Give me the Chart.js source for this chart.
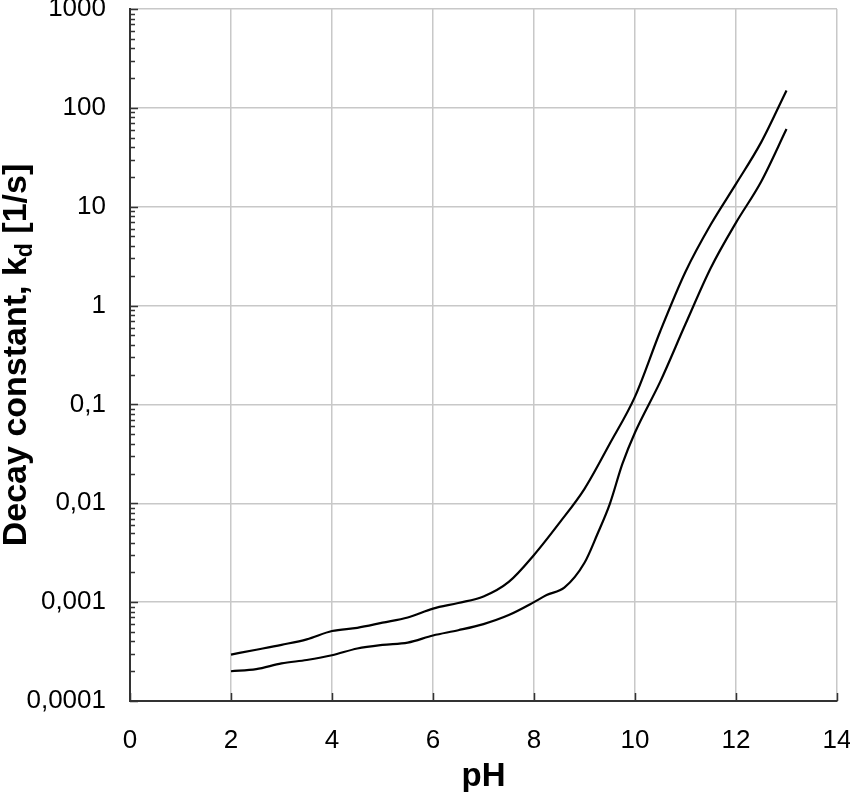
<!DOCTYPE html>
<html>
<head>
<meta charset="utf-8">
<script src="https://cdn.jsdelivr.net/npm/chart.js@4/dist/chart.umd.min.js"></script>
<style>
  html, body { margin: 0; padding: 0; background: #fff; }
  #wrap { width: 850px; height: 792px; position: relative; }
</style>
</head>
<body>
<div id="wrap"><canvas id="decayChart"></canvas></div>
<script>
// values
const phUpper = [2, 2.5, 3, 3.5, 4, 4.5, 5, 5.5, 6, 6.5, 7, 7.5, 8, 8.5, 9, 9.5, 10, 10.5, 11, 11.5, 12, 12.5, 13];
const kdUpper = [0.000295, 0.00033, 0.00037, 0.00042, 0.00051, 0.00055, 0.00062, 0.0007, 0.00086, 0.00098, 0.00114, 0.0016, 0.003, 0.0063, 0.014, 0.04, 0.12, 0.55, 2.2, 6.6, 17, 45, 150];

const phLower = [2, 2.5, 3, 3.5, 4, 4.5, 5, 5.5, 6, 6.5, 7, 7.5, 8, 8.25, 8.6, 9, 9.25, 9.5, 9.75, 10, 10.5, 11, 11.5, 12, 12.5, 13];
const kdLower = [0.0002, 0.00021, 0.00024, 0.00026, 0.00029, 0.00034, 0.00037, 0.00039, 0.00046, 0.00052, 0.0006, 0.00074, 0.001, 0.00118, 0.0014, 0.0025, 0.0048, 0.0098, 0.025, 0.052, 0.17, 0.65, 2.4, 6.9, 18, 61];

const yTicks = [0.0001, 0.001, 0.01, 0.1, 1, 10, 100, 1000];
const xTicks = [0, 2, 4, 6, 8, 10, 12, 14];

const FONT = "'Liberation Sans', Arial, sans-serif";

function toPoints(xs, ys) {
    return xs.map((x, i) => ({ x: x, y: ys[i] }));
}

// inward tick marks and the two axis titles
const axisDecor = {
    id: 'axisDecor',
    afterDraw(chart) {
        const ctx = chart.ctx;
        const area = chart.chartArea;
        const ys = chart.scales.y;
        const xs = chart.scales.x;
        ctx.save();
        ctx.strokeStyle = '#333';
        ctx.lineWidth = 1.5;
        ctx.beginPath();
        for (let e = -4; e <= 3; e++) {
            for (let m = 1; m <= 9; m++) {
                const v = m * Math.pow(10, e);
                if (v > 1000 * 1.0001) break;
                const py = Math.round(ys.getPixelForValue(v)) + 0.5;
                const len = m === 1 ? 8 : 5;
                ctx.moveTo(area.left, py);
                ctx.lineTo(area.left + len, py);
            }
        }
        xTicks.forEach(t => {
            const px = Math.round(xs.getPixelForValue(t)) + 0.5;
            ctx.moveTo(px, area.bottom);
            ctx.lineTo(px, area.bottom - 8);
        });
        ctx.stroke();

        ctx.fillStyle = '#000';
        // x title
        ctx.font = 'bold 33px ' + FONT;
        ctx.textAlign = 'center';
        ctx.textBaseline = 'alphabetic';
        ctx.fillText('pH', (area.left + area.right) / 2, 786);

        // y title with subscript d
        const big = 'bold 34px ' + FONT;
        const small = 'bold 23px ' + FONT;
        const p1 = 'Decay constant, k', p2 = 'd', p3 = ' [1/s]';
        ctx.font = big;
        const w1 = ctx.measureText(p1).width;
        const w3 = ctx.measureText(p3).width;
        ctx.font = small;
        const w2 = ctx.measureText(p2).width;
        const total = w1 + w2 + w3;
        ctx.translate(26, (area.top + area.bottom) / 2);
        ctx.rotate(-Math.PI / 2);
        ctx.textAlign = 'left';
        let x0 = -total / 2;
        ctx.font = big;
        ctx.fillText(p1, x0, 0);
        ctx.font = small;
        ctx.fillText(p2, x0 + w1, 6);
        ctx.font = big;
        ctx.fillText(p3, x0 + w1 + w2, 0);
        ctx.restore();
    }
};

new Chart(document.getElementById('decayChart'), {
    type: 'line',
    data: {
        datasets: [{
            label: 'upper',
            data: toPoints(phUpper, kdUpper),
            borderColor: '#000',
            borderWidth: 2.2,
            pointRadius: 0,
            cubicInterpolationMode: 'monotone',
            fill: false
        }, {
            label: 'lower',
            data: toPoints(phLower, kdLower),
            borderColor: '#000',
            borderWidth: 2.2,
            pointRadius: 0,
            cubicInterpolationMode: 'monotone',
            fill: false
        }]
    },
    options: {
        responsive: true,
        maintainAspectRatio: false,
        animation: false,
        layout: { padding: { left: 0, right: 13, top: 9, bottom: 0 } },
        plugins: {
            legend: { display: false },
            tooltip: { enabled: false }
        },
        scales: {
            x: {
                type: 'linear',
                min: 0,
                max: 14,
                afterBuildTicks: scale => { scale.ticks = xTicks.map(v => ({ value: v })); },
                afterFit: scale => {
                    scale.height = 91;
                    scale.paddingLeft = 0;
                    scale.paddingRight = 0;
                },
                ticks: {
                    color: '#000',
                    font: { family: FONT, size: 26 },
                    padding: 24,
                    maxRotation: 0
                },
                grid: { color: '#c8c8c8', lineWidth: 1.5, drawTicks: false },
                border: { color: '#333', width: 2 }
            },
            y: {
                type: 'logarithmic',
                min: 0.0001,
                max: 1000,
                afterBuildTicks: scale => { scale.ticks = yTicks.map(v => ({ value: v })); },
                afterFit: scale => {
                    scale.width = 130;
                    scale.paddingTop = 0;
                    scale.paddingBottom = 0;
                },
                ticks: {
                    color: '#000',
                    font: { family: FONT, size: 26 },
                    padding: 24,
                    callback: v => String(v).replace('.', ',')
                },
                grid: { color: '#c8c8c8', lineWidth: 1.5, drawTicks: false },
                border: { color: '#333', width: 2 }
            }
        }
    },
    plugins: [axisDecor]
});
</script>
</body>
</html>
